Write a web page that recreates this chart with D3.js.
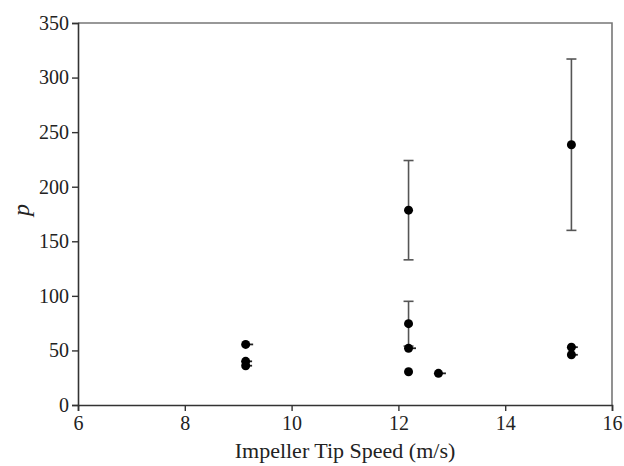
<!DOCTYPE html>
<html>
<head>
<meta charset="utf-8">
<script src="https://cdn.jsdelivr.net/npm/d3@7"></script>
<style>
  body { margin: 0; background: #fff; }
  text { font-family: "Liberation Serif", "Times New Roman", serif; fill: #222; }
</style>
</head>
<body>
<svg id="chart" width="624" height="466"></svg>
<script>
// tip speed (m/s) and p for each run
const speeds = [9.14, 9.14, 9.14, 12.19, 12.19, 12.19, 12.19, 12.75, 15.24, 15.24, 15.24]
const pValues = [55.5, 40, 36, 178.5, 74.5, 52, 30.5, 29, 238.5, 53, 46]
const pErr = [0, 0, 0, 45.5, 20.5, 0, 0, 0, 78.5, 0, 0]
const speedErr = [0.14, 0.12, 0.12, 0, 0, 0.14, 0, 0.14, 0, 0.12, 0.12]

const xTicks = [6, 8, 10, 12, 14, 16]
const yTicks = [0, 50, 100, 150, 200, 250, 300, 350]

const margin = { left: 78, right: 12, top: 23, bottom: 61 }
const width = 624 - margin.left - margin.right
const height = 466 - margin.top - margin.bottom

const svg = d3.select('#chart')
const g = svg.append('g').attr('transform', `translate(${margin.left},${margin.top})`)

let x = d3.scaleLinear().domain([6, 16]).range([0, width])
let y = d3.scaleLinear().domain([0, 350]).range([height, 0])

// frame on top and right
g.append('path')
    .attr('d', `M0,0H${width}V${height}`)
    .attr('fill', 'none')
    .attr('stroke', '#777')
    .attr('stroke-width', 1.6)

const xAxis = g.append('g')
    .attr('transform', `translate(0,${height})`)
    .call(d3.axisBottom(x).tickValues(xTicks).tickSize(6).tickPadding(5))
const yAxis = g.append('g')
    .call(d3.axisLeft(y).tickValues(yTicks).tickSize(6).tickPadding(3))

for (const ax of [xAxis, yAxis]) {
    ax.select('.domain').attr('stroke', '#333').attr('stroke-width', 1.6)
    ax.selectAll('.tick line').attr('stroke', '#333').attr('stroke-width', 1.4)
    ax.selectAll('.tick text')
        .attr('font-family', '"Liberation Serif", serif')
        .attr('font-size', 20)
        .attr('fill', '#222')
}

const data = speeds.map((s, i) => ({ s, p: pValues[i], e: pErr[i], se: speedErr[i] }))

// vertical error bars
const eb = g.append('g').selectAll('g')
    .data(data.filter(d => d.e > 0))
    .enter().append('g')
    .attr('stroke', '#555').attr('stroke-width', 1.6)
eb.append('line')
    .attr('x1', d => x(d.s)).attr('x2', d => x(d.s))
    .attr('y1', d => y(d.p + d.e)).attr('y2', d => y(d.p - d.e))
eb.append('line')
    .attr('x1', d => x(d.s) - 5).attr('x2', d => x(d.s) + 5)
    .attr('y1', d => y(d.p + d.e)).attr('y2', d => y(d.p + d.e))
eb.append('line')
    .attr('x1', d => x(d.s) - 5).attr('x2', d => x(d.s) + 5)
    .attr('y1', d => y(d.p - d.e)).attr('y2', d => y(d.p - d.e))

// small horizontal error nubs
g.append('g').selectAll('line')
    .data(data.filter(d => d.se > 0))
    .enter().append('line')
    .attr('x1', d => x(d.s)).attr('x2', d => x(d.s + d.se))
    .attr('y1', d => y(d.p)).attr('y2', d => y(d.p))
    .attr('stroke', '#222').attr('stroke-width', 1.8)

g.append('g').selectAll('circle')
    .data(data)
    .enter().append('circle')
    .attr('cx', d => x(d.s))
    .attr('cy', d => y(d.p))
    .attr('r', 4.5)
    .attr('fill', '#000')

svg.append('text')
    .attr('x', margin.left + width / 2)
    .attr('y', 458)
    .attr('text-anchor', 'middle')
    .attr('font-size', 22)
    .text('Impeller Tip Speed (m/s)')

svg.append('text')
    .attr('transform', 'translate(29,210) rotate(-90)')
    .attr('text-anchor', 'middle')
    .attr('font-size', 24)
    .attr('font-style', 'italic')
    .text('p')
</script>
</body>
</html>
